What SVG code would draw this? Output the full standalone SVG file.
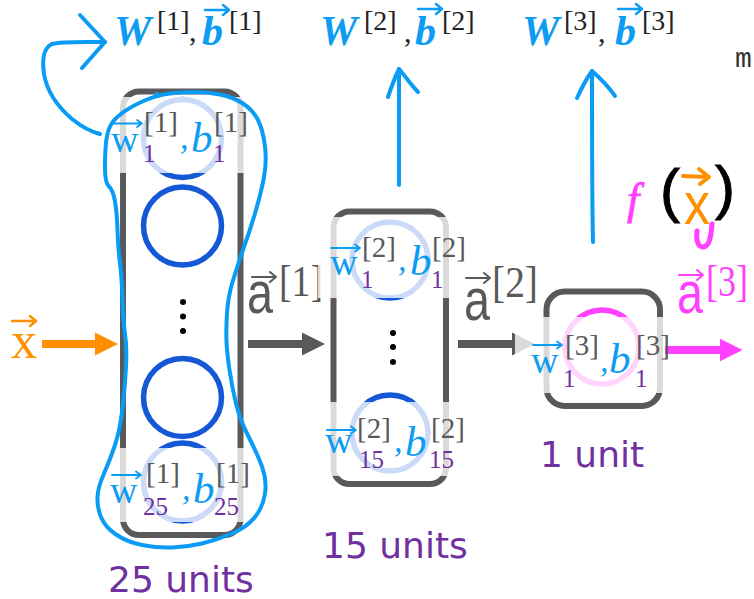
<svg xmlns="http://www.w3.org/2000/svg" xmlns:xlink="http://www.w3.org/1999/xlink" width="754" height="599" viewBox="0 0 754 599">
  <defs>
    <style>
      .box { fill: none; stroke: #595959; stroke-width: 6; }
      .unit { fill: none; stroke: #1558d6; stroke-width: 5.5; }
      .unit3 { fill: none; stroke: #ff40ff; stroke-width: 5.5; }
      .veil { fill: #ffffff; fill-opacity: 0.78; }
      .dot { fill: #000000; }
      .serif { font-family: "Liberation Serif", "Times New Roman", "DejaVu Serif", serif; }
      .w { font-size: 38px; fill: #0c9cf2; }
      .b { font-style: italic; font-size: 43px; fill: #0c9cf2; }
      .cm { font-style: italic; font-size: 34px; fill: #0c9cf2; }
      .sup { font-size: 29px; fill: #595959; }
      .sub { font-size: 25px; fill: #7030a0; }
      .units { font-family: "DejaVu Sans", "Liberation Sans", sans-serif; font-size: 36px; fill: #7030a0; }
      .W { font-weight: bold; font-style: italic; font-size: 42px; fill: #0c9cf2; }
      .tsup { font-size: 28px; fill: #222222; }
      .tcm { font-size: 30px; fill: #222222; }
      .al { font-family: "Liberation Sans", Arial, "DejaVu Sans", sans-serif; font-size: 60px; }
      .ab { font-size: 44px; }
      .ink { fill: none; stroke: #0a9cf5; stroke-width: 4; stroke-linecap: round; stroke-linejoin: round; }
      .acc { fill: none; stroke-linecap: round; stroke-linejoin: round; }
    </style>
    <marker id="hGray" viewBox="0 0 10 10" refX="0" refY="5" markerWidth="2.9" markerHeight="2.9" orient="auto" markerUnits="strokeWidth">
      <path d="M0,0 L10,5 L0,10 Z" fill="#595959"/>
    </marker>
    <marker id="hOrange" viewBox="0 0 10 10" refX="0" refY="5" markerWidth="2.9" markerHeight="3" orient="auto" markerUnits="strokeWidth">
      <path d="M0,0 L10,5 L0,10 Z" fill="#ff9100"/>
    </marker>
    <marker id="hPink" viewBox="0 0 10 10" refX="0" refY="5" markerWidth="2.8" markerHeight="3" orient="auto" markerUnits="strokeWidth">
      <path d="M0,0 L10,5 L0,10 Z" fill="#ff40ff"/>
    </marker>
    <!-- vector accents drawn above w, a, x -->
    <path id="vecW" d="M0,0 H29 M24,-3.5 L29,0 L24,3.5"/>
    <path id="vecA" d="M0,0 H24 M18,-5 L24,0 L18,5"/>
  </defs>

  <!-- layer-to-layer connectors and their labels -->
  <g id="connectors">
    <line x1="42" y1="344" x2="95" y2="344" stroke="#ff9100" stroke-width="8" marker-end="url(#hOrange)"/>
    <text class="serif" x="11" y="358" font-size="52" fill="#ff9100">x</text>
    <use xlink:href="#vecA" x="12" y="321" class="acc" stroke="#ff9100" stroke-width="2.5"/>

    <line x1="248" y1="344" x2="302" y2="344" stroke="#595959" stroke-width="8" marker-end="url(#hGray)"/>
    <text class="al" x="247" y="313" fill="#595959" textLength="26" lengthAdjust="spacingAndGlyphs">a</text>
    <use xlink:href="#vecA" x="252" y="277" class="acc" stroke="#595959" stroke-width="2"/>
    <text class="serif ab" x="279" y="296" fill="#595959" textLength="44" lengthAdjust="spacingAndGlyphs">[1]</text>

    <line x1="458" y1="344" x2="512" y2="344" stroke="#595959" stroke-width="8" marker-end="url(#hGray)"/>
    <text class="al" x="464" y="320" fill="#595959" textLength="26" lengthAdjust="spacingAndGlyphs">a</text>
    <use xlink:href="#vecA" x="466" y="278" class="acc" stroke="#595959" stroke-width="2"/>
    <text class="serif ab" x="492" y="297" fill="#595959" textLength="46" lengthAdjust="spacingAndGlyphs">[2]</text>

    <line x1="665" y1="350" x2="720" y2="350" stroke="#ff40ff" stroke-width="8" marker-end="url(#hPink)"/>
    <text class="al" x="677" y="313" fill="#ff40ff" textLength="26" lengthAdjust="spacingAndGlyphs">a</text>
    <use xlink:href="#vecA" x="679" y="275" class="acc" stroke="#ff40ff" stroke-width="2"/>
    <text class="serif ab" x="706" y="296" fill="#ff40ff" textLength="42" lengthAdjust="spacingAndGlyphs">[3]</text>
  </g>

  <!-- layer 1: 25 units -->
  <g id="layer1">
    <rect class="box" x="123" y="91.5" width="117.5" height="443.5" rx="16"/>
    <circle class="unit" cx="182.5" cy="138.5" r="39"/>
    <circle class="unit" cx="182.5" cy="226" r="39"/>
    <circle class="dot" cx="183" cy="302" r="3"/>
    <circle class="dot" cx="183" cy="316.5" r="3"/>
    <circle class="dot" cx="183" cy="331" r="3"/>
    <circle class="unit" cx="182.5" cy="397.5" r="39"/>
    <circle class="unit" cx="182.5" cy="482" r="39"/>
    <rect class="veil" x="110" y="97" width="145" height="76"/>
    <rect class="veil" x="110" y="448" width="145" height="74"/>
    <g class="serif">
      <text class="w" x="111" y="152">w</text>
      <text class="sup" x="144" y="132">[1]</text>
      <text class="sub" x="143" y="162">1</text>
      <text class="cm" x="180" y="149">,</text>
      <text class="b" x="191" y="152">b</text>
      <text class="sup" x="214" y="132">[1]</text>
      <text class="sub" x="213" y="162">1</text>
      <text class="w" x="110" y="503">w</text>
      <text class="sup" x="146" y="483">[1]</text>
      <text class="sub" x="143" y="515">25</text>
      <text class="cm" x="182" y="500">,</text>
      <text class="b" x="193" y="503">b</text>
      <text class="sup" x="216" y="483">[1]</text>
      <text class="sub" x="214" y="515">25</text>
    </g>
    <use xlink:href="#vecW" x="113" y="123.5" class="acc" stroke="#0c9cf2" stroke-width="1.8"/>
    <use xlink:href="#vecW" x="112" y="475" class="acc" stroke="#0c9cf2" stroke-width="1.8"/>
    <text class="units" x="108" y="592">25 units</text>
  </g>

  <!-- layer 2: 15 units -->
  <g id="layer2">
    <rect class="box" x="333.5" y="211.5" width="112.5" height="272.5" rx="16"/>
    <circle class="unit" cx="390" cy="260" r="38"/>
    <circle class="dot" cx="393" cy="333" r="3"/>
    <circle class="dot" cx="393" cy="347" r="3"/>
    <circle class="dot" cx="393" cy="362" r="3"/>
    <circle class="unit" cx="390" cy="433" r="38"/>
    <rect class="veil" x="318" y="217" width="137" height="81"/>
    <rect class="veil" x="318" y="402" width="137" height="74"/>
    <g class="serif">
      <text class="w" x="330" y="275">w</text>
      <text class="sup" x="362" y="257">[2]</text>
      <text class="sub" x="361" y="288">1</text>
      <text class="cm" x="398" y="271">,</text>
      <text class="b" x="410" y="275">b</text>
      <text class="sup" x="432" y="257">[2]</text>
      <text class="sub" x="431" y="288">1</text>
      <text class="w" x="325" y="453">w</text>
      <text class="sup" x="357" y="438">[2]</text>
      <text class="sub" x="359" y="468">15</text>
      <text class="cm" x="394" y="452">,</text>
      <text class="b" x="405" y="456">b</text>
      <text class="sup" x="431" y="438">[2]</text>
      <text class="sub" x="429" y="468">15</text>
    </g>
    <use xlink:href="#vecW" x="331" y="248" class="acc" stroke="#0c9cf2" stroke-width="1.8"/>
    <use xlink:href="#vecW" x="327" y="430" class="acc" stroke="#0c9cf2" stroke-width="1.8"/>
    <text class="units" x="322" y="558">15 units</text>
  </g>

  <!-- layer 3: 1 unit -->
  <g id="layer3">
    <rect class="box" x="546.5" y="291.5" width="113.5" height="114.5" rx="18"/>
    <circle class="unit3" cx="602" cy="347" r="37"/>
    <rect class="veil" x="515" y="317" width="149" height="76"/>
    <g class="serif">
      <text class="w" x="531" y="373">w</text>
      <text class="sup" x="565" y="355">[3]</text>
      <text class="sub" x="563" y="387">1</text>
      <text class="cm" x="600" y="372">,</text>
      <text class="b" x="609" y="373">b</text>
      <text class="sup" x="636" y="355">[3]</text>
      <text class="sub" x="635" y="387">1</text>
    </g>
    <use xlink:href="#vecW" x="533" y="345" class="acc" stroke="#0c9cf2" stroke-width="1.8"/>
    <text class="units" x="540" y="467">1 unit</text>
  </g>

  <!-- parameter labels above the layers -->
  <g id="params1" class="serif">
    <text class="W" x="114" y="45">W</text>
    <text class="tsup" x="157" y="30">[1]</text>
    <text class="tcm" x="189" y="41">,</text>
    <text class="W" x="202" y="45">b</text>
    <use xlink:href="#vecA" x="205" y="10" class="acc" stroke="#0c9cf2" stroke-width="2.4"/>
    <text class="tsup" x="229" y="30">[1]</text>
  </g>
  <g id="params2" class="serif">
    <text class="W" x="320" y="45">W</text>
    <text class="tsup" x="364" y="30">[2]</text>
    <text class="tcm" x="404" y="42">,</text>
    <text class="W" x="415" y="45">b</text>
    <use xlink:href="#vecA" x="418" y="9" class="acc" stroke="#0c9cf2" stroke-width="2.4"/>
    <text class="tsup" x="442" y="30">[2]</text>
  </g>
  <g id="params3" class="serif">
    <text class="W" x="522" y="45">W</text>
    <text class="tsup" x="564" y="30">[3]</text>
    <text class="tcm" x="598" y="42">,</text>
    <text class="W" x="615" y="45">b</text>
    <use xlink:href="#vecA" x="618" y="9" class="acc" stroke="#0c9cf2" stroke-width="2.4"/>
    <text class="tsup" x="642" y="30">[3]</text>
  </g>
  <text x="735" y="67" font-family="'Liberation Mono', 'Courier New', 'DejaVu Sans Mono', monospace" font-size="28" fill="#333333">m</text>

  <!-- pen annotations -->
  <g id="ink">
    <!-- lasso around layer 1 with arrow to its parameters -->
    <path class="ink" d="M143.5,101 Q157,95 170,93.5 Q183,92 195,92 Q207,92 220,94.5 Q233,97 243,103.5 Q253,110 258,120 Q263,130 265,146.5 Q267,163 263.5,180 Q260,197 255,213.5 Q250,230 243.5,248.5 Q237,267 232.5,282 Q228,297 227,313.5 Q226,330 226.5,341.5 Q227,353 229.5,370 Q232,387 236,403.5 Q240,420 248.5,436.5 Q257,453 262,466.5 Q267,480 265,493.5 Q263,507 255,517 Q247,527 232,533.5 Q217,540 202,543.5 Q187,547 172,547.5 Q157,548 142,545 Q127,542 116,534.5 Q105,527 101,517 Q97,507 97.5,497 Q98,487 104,473.5 Q110,460 115,445 Q120,430 122.5,408.5 Q125,387 126,367 Q127,347 125,333.5 Q123,320 122.5,300 Q122,280 120,263.5 Q118,247 117.5,230 Q117,213 115,201.5 Q113,190 109,186.5 Q105,183 105,168 Q105,153 106,143 Q107,133 110,126.5 Q113,120 121.5,113.5 Q130,107 143.5,101 Z"/>
    <circle cx="157" cy="95" r="3" fill="#0a9cf5"/>
    <path class="ink" d="M100,134 C92,132 82,127 72,119 C58,107 47,92 44,74 C42,60 43,48 52,44 C62,41 85,42 105,42"/>
    <path class="ink" stroke-width="5" d="M80,15 L105,42 L82,68"/>
    <!-- arrows from layers 2 and 3 up to their parameters -->
    <path class="ink" d="M399,185 L399,69"/>
    <path class="ink" d="M388,97 C392,85 396,75 399,69 C405,76 411,85 418,92"/>
    <path class="ink" d="M593,242 C592,200 592,120 592,71"/>
    <path class="ink" d="M577,98 C582,87 587,78 592,71 C600,78 608,86 615,96"/>
    <!-- f(x) note next to the output -->
    <text class="serif" x="627" y="214" font-style="italic" font-size="44" fill="#ff40ff" stroke="#ff40ff" stroke-width="0.8">f</text>
    <text class="al" x="660" y="211" font-size="38" fill="#000000" stroke="#000000" stroke-width="1">(</text>
    <text class="al" x="684" y="224" font-size="70" fill="#ff9100" textLength="26" lengthAdjust="spacingAndGlyphs">x</text>
    <path d="M683,176 L708,177 M699,169 L709,177 L700,184" fill="none" stroke="#ff9100" stroke-width="4" stroke-linecap="round" stroke-linejoin="round"/>
    <text class="al" x="715" y="208" font-size="38" fill="#000000" stroke="#000000" stroke-width="1">)</text>
    <path d="M697,231 C696,241 698,247 703,247 C709,247 711,238 712,224" fill="none" stroke="#ff40ff" stroke-width="5" stroke-linecap="round"/>
  </g>
</svg>
